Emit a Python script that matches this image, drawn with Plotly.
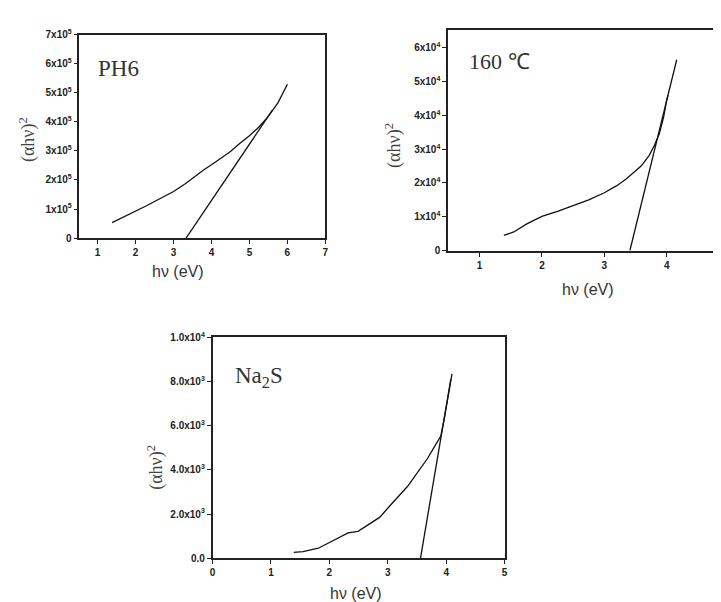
import plotly.graph_objects as go

W, H = 721, 602

# ---- data ----
ph6_x = [1.38, 1.7, 2.0, 2.3, 2.5, 2.75, 3.0, 3.3, 3.55, 3.8, 4.0, 4.25, 4.5, 4.75, 5.0, 5.25, 5.48, 5.75, 6.0]
ph6_y = [0.53e5, 0.73e5, 0.93e5, 1.12e5, 1.26e5, 1.42e5, 1.6e5, 1.86e5, 2.12e5, 2.35e5, 2.52e5, 2.74e5, 2.98e5, 3.26e5, 3.52e5, 3.82e5, 4.16e5, 4.65e5, 5.29e5]
ph6_fit_x = [3.33, 5.6]
ph6_fit_y = [0.0, 4.39e5]

t160_x = [1.39, 1.55, 1.75, 2.0, 2.25, 2.5, 2.75, 3.0, 3.2, 3.35, 3.5, 3.59, 3.72, 3.8, 3.88, 3.95, 4.0, 4.08, 4.16]
t160_y = [0.45e4, 0.55e4, 0.78e4, 1.01e4, 1.16e4, 1.32e4, 1.5e4, 1.71e4, 1.92e4, 2.12e4, 2.36e4, 2.5e4, 2.82e4, 3.1e4, 3.45e4, 3.95e4, 4.45e4, 5.05e4, 5.65e4]
t160_fit_x = [3.41, 4.02]
t160_fit_y = [0.0, 4.6e4]

na_x = [1.39, 1.55, 1.81, 2.0, 2.32, 2.49, 2.7, 2.86, 3.06, 3.34, 3.48, 3.68, 3.8, 3.91, 3.96, 4.03, 4.1]
na_y = [265, 300, 456, 708, 1150, 1220, 1560, 1850, 2447, 3257, 3774, 4513, 5050, 5544, 6208, 7200, 8345]
na_fit_x = [3.56, 4.08]
na_fit_y = [0.0, 8100]

ph6_xticks = [1, 2, 3, 4, 5, 6, 7]
t160_xticks = [1, 2, 3, 4, 5]
na_xticks = [0, 1, 2, 3, 4, 5]
ph6_ticks = [0, 1e5, 2e5, 3e5, 4e5, 5e5, 6e5, 7e5]
ph6_ticktext = ["0"] + ["%dx10<sup>5</sup>" % i for i in range(1, 8)]
t160_ticks = [0, 1e4, 2e4, 3e4, 4e4, 5e4, 6e4]
t160_ticktext = ["0"] + ["%dx10<sup>4</sup>" % i for i in range(1, 7)]
na_ticks = [0, 2e3, 4e3, 6e3, 8e3, 1e4]
na_ticktext = ["0.0", "2.0x10<sup>3</sup>", "4.0x10<sup>3</sup>", "6.0x10<sup>3</sup>",
               "8.0x10<sup>3</sup>", "1.0x10<sup>4</sup>"]


def bold(lst):
    return ["<b>%s</b>" % s for s in lst]


fig = go.Figure()


def px(x):
    return x / W


def py(y):
    return 1 - y / H


line = dict(color="#111", width=1.3)
fig.add_trace(go.Scatter(x=ph6_x, y=ph6_y, mode="lines", line=line, xaxis="x", yaxis="y"))
fig.add_trace(go.Scatter(x=ph6_fit_x, y=ph6_fit_y, mode="lines", line=line, xaxis="x", yaxis="y"))
fig.add_trace(go.Scatter(x=t160_x, y=t160_y, mode="lines", line=line, xaxis="x2", yaxis="y2"))
fig.add_trace(go.Scatter(x=t160_fit_x, y=t160_fit_y, mode="lines", line=line, xaxis="x2", yaxis="y2"))
fig.add_trace(go.Scatter(x=na_x, y=na_y, mode="lines", line=line, xaxis="x3", yaxis="y3"))
fig.add_trace(go.Scatter(x=na_fit_x, y=na_fit_y, mode="lines", line=line, xaxis="x3", yaxis="y3"))

tickfont = dict(family="Liberation Sans", size=10, color="#222")
ax_common = dict(showgrid=False, zeroline=False, showline=True, linecolor="#222",
                 ticks="outside", ticklen=4, tickcolor="#222", tickfont=tickfont)

fig.update_layout(
    width=W, height=H, margin=dict(l=0, r=0, t=0, b=0),
    paper_bgcolor="white", plot_bgcolor="white", showlegend=False,
    xaxis=dict(domain=[px(69), px(317)], range=[0.52, 7], tickvals=ph6_xticks,
               ticktext=bold([str(v) for v in ph6_xticks]),
               anchor="y", mirror=True, linewidth=1.5, **ax_common),
    yaxis=dict(domain=[py(228), py(20)], range=[0, 7e5], tickvals=ph6_ticks, ticktext=bold(ph6_ticktext),
               anchor="x", mirror=True, linewidth=1.5, **ax_common),
    xaxis2=dict(domain=[px(441), 1.0], range=[0.5, 4.95], tickvals=t160_xticks,
                ticktext=bold([str(v) for v in t160_xticks]),
                anchor="y2", mirror=True, linewidth=2, **ax_common),
    yaxis2=dict(domain=[py(240.7), py(15.7)], range=[0, 6.52e4], tickvals=t160_ticks, ticktext=bold(t160_ticktext),
                anchor="x2", mirror=False, linewidth=2, **ax_common),
    xaxis3=dict(domain=[px(203.3), px(497.7)], range=[0, 5], tickvals=na_xticks,
                ticktext=bold([str(v) for v in na_xticks]),
                anchor="y3", mirror=True, linewidth=1.5, **ax_common),
    yaxis3=dict(domain=[py(555.3), py(329.3)], range=[0, 1e4], tickvals=na_ticks, ticktext=bold(na_ticktext),
                anchor="x3", mirror=True, linewidth=1.5, **ax_common),
)

ytitle_font = dict(family="Liberation Serif", size=18, color="#444")
xtitle_font = dict(family="Liberation Sans", size=16, color="#333")
label_font = dict(family="Liberation Serif", size=23, color="#333")

annots = [
    # PH6 panel
    dict(x=px(17), y=py(127), text="(αhν)<sup>2</sup>", textangle=-90, font=ytitle_font),
    dict(x=px(168), y=py(262), text="hν (eV)", font=xtitle_font),
    dict(x=px(108), y=py(55), text="PH6", font=label_font),
    # 160 panel
    dict(x=px(386), y=py(133), text="(αhν)<sup>2</sup>", textangle=-90, font=ytitle_font),
    dict(x=px(582), y=py(281), text="hν (eV)", font=xtitle_font),
    dict(x=px(493), y=py(48), text="160 ℃", font=dict(family="Liberation Serif", size=22, color="#333")),
    # Na2S panel
    dict(x=px(146), y=py(462), text="(αhν)<sup>2</sup>", textangle=-90, font=ytitle_font),
    dict(x=px(348), y=py(591), text="hν (eV)", font=xtitle_font),
    dict(x=px(250), y=py(370), text="Na<sub>2</sub>S", font=label_font),
]
for a in annots:
    a.update(xref="paper", yref="paper", showarrow=False, xanchor="center", yanchor="middle")
fig.update_layout(annotations=annots)

fig.write_html("out.html")
